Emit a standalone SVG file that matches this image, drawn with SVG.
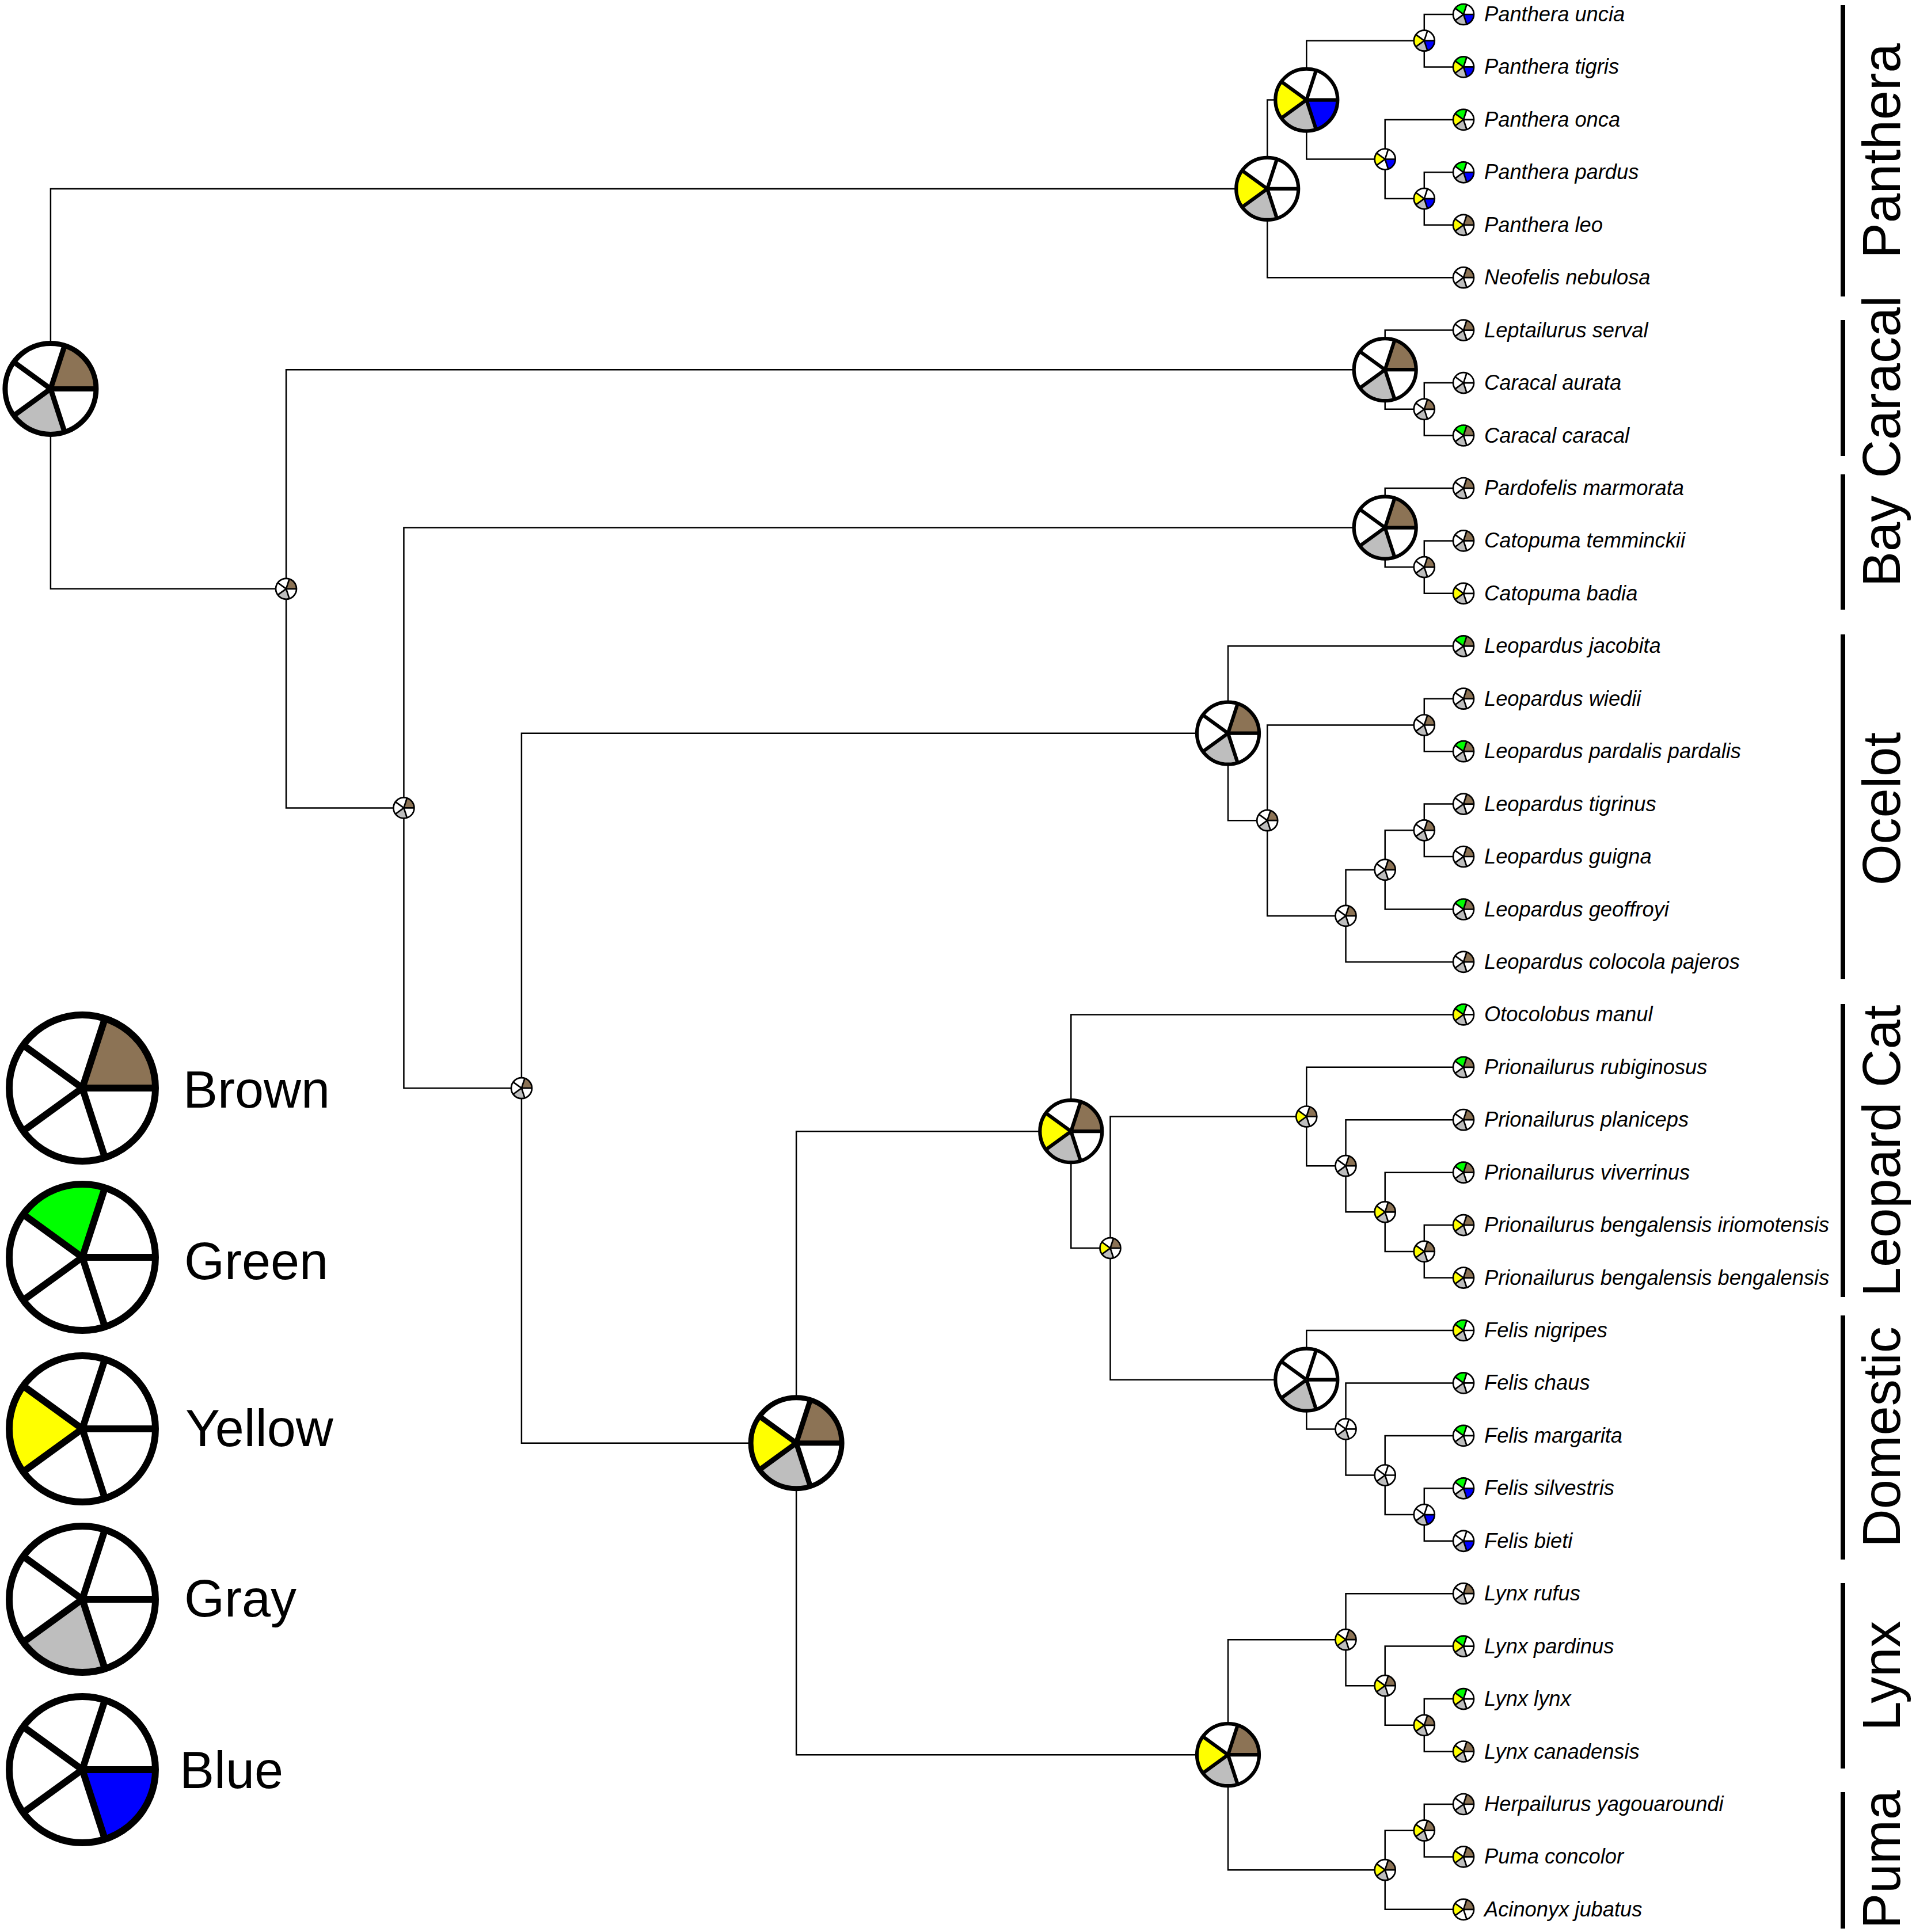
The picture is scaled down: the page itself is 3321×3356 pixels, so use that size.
<svg xmlns="http://www.w3.org/2000/svg" xmlns:xlink="http://www.w3.org/1999/xlink" width="3321" height="3356" viewBox="0 0 3321 3356">
<style>
.g{fill:#00FF00}.y{fill:#FFFF00}.gy{fill:#BEBEBE}.b{fill:#0000FF}.br{fill:#8C7355}
.fs{stroke-width:.15}.fm{stroke-width:.115}.fl{stroke-width:.114}.fg{stroke-width:.094}
.tl{font-family:"Liberation Sans",Arial,Helvetica,sans-serif;font-style:italic;font-size:36.3px;fill:#000}
.cl{font-family:"Liberation Sans",Arial,Helvetica,sans-serif;font-size:92px;fill:#000}
.lg{font-family:"Liberation Sans",Arial,Helvetica,sans-serif;font-size:90px;fill:#000}
</style>
<defs>
<circle id="bg" r="1" fill="#fff"/>
<path id="sB" d="M0 0L1 0A1 1 0 0 1 .30902 .95106Z"/>
<path id="sGy" d="M0 0L.30902 .95106A1 1 0 0 1 -.80902 .58779Z"/>
<path id="sY" d="M0 0L-.80902 .58779A1 1 0 0 1 -.80902 -.58779Z"/>
<path id="sG" d="M0 0L-.80902 -.58779A1 1 0 0 1 .30902 -.95106Z"/>
<path id="sBr" d="M0 0L.30902 -.95106A1 1 0 0 1 1 0Z"/>
<g id="fr" fill="none" stroke="#000"><circle r="1"/><path d="M0 0L1 0M0 0L.30902 .95106M0 0L-.80902 .58779M0 0L-.80902 -.58779M0 0L.30902 -.95106"/></g>
</defs>
<rect width="3321" height="3356" fill="#fff"/>
<g id="connectors" fill="none" stroke="#000" stroke-width="2.5">
<path d="M2201.2 327.9H87.9V1022.8H497"/>
<path d="M2269.3 173.6H2201.2V482.2H2542"/>
<path d="M2473.8 70.7H2269.3V276.5H2405.7"/>
<path d="M2542 25H2473.8V116.4H2542"/>
<path d="M2542 207.9H2405.7V345.1H2473.8"/>
<path d="M2542 299.3H2473.8V390.8H2542"/>
<path d="M2405.7 642.2H497V1403.4H701.4"/>
<path d="M2542 573.6H2405.7V710.8H2473.8"/>
<path d="M2542 665.1H2473.8V756.5H2542"/>
<path d="M2405.7 916.6H701.4V1890.2H905.9"/>
<path d="M2542 848H2405.7V985.1H2473.8"/>
<path d="M2542 939.4H2473.8V1030.8H2542"/>
<path d="M2133 1273.7H905.9V2506.7H1383.1"/>
<path d="M2542 1122.3H2133V1425.2H2201.2"/>
<path d="M2473.8 1259.5H2201.2V1590.9H2337.5"/>
<path d="M2542 1213.7H2473.8V1305.2H2542"/>
<path d="M2405.7 1510.9H2337.5V1670.9H2542"/>
<path d="M2473.8 1442.3H2405.7V1579.5H2542"/>
<path d="M2542 1396.6H2473.8V1488H2542"/>
<path d="M1860.3 1965.2H1383.1V3048.2H2133"/>
<path d="M2542 1762.4H1860.3V2168.1H1928.5"/>
<path d="M2269.3 1939.5H1928.5V2396.7H2269.3"/>
<path d="M2542 1853.8H2269.3V2025.2H2337.5"/>
<path d="M2542 1945.2H2337.5V2105.3H2405.7"/>
<path d="M2542 2036.7H2405.7V2173.9H2473.8"/>
<path d="M2542 2128.1H2473.8V2219.6H2542"/>
<path d="M2542 2311H2269.3V2482.4H2337.5"/>
<path d="M2542 2402.4H2337.5V2562.5H2405.7"/>
<path d="M2542 2493.9H2405.7V2631.1H2473.8"/>
<path d="M2542 2585.3H2473.8V2676.8H2542"/>
<path d="M2337.5 2848.2H2133V3248.2H2405.7"/>
<path d="M2542 2768.2H2337.5V2928.2H2405.7"/>
<path d="M2542 2859.6H2405.7V2996.8H2473.8"/>
<path d="M2542 2951.1H2473.8V3042.5H2542"/>
<path d="M2473.8 3179.7H2405.7V3316.8H2542"/>
<path d="M2542 3134H2473.8V3225.4H2542"/>
</g>
<g id="internal-nodes">
<g id="n-root" transform="translate(87.9 675.4) scale(79)"><use href="#bg"/><use href="#sBr" class="br"/><use href="#sGy" class="gy"/><use href="#fr" class="fl"/></g>
<g id="n-panthera" transform="translate(2201.2 327.9) scale(54)"><use href="#bg"/><use href="#sY" class="y"/><use href="#sGy" class="gy"/><use href="#fr" class="fm"/></g>
<g id="n-pantheracore" transform="translate(2269.3 173.6) scale(54)"><use href="#bg"/><use href="#sY" class="y"/><use href="#sGy" class="gy"/><use href="#sB" class="b"/><use href="#fr" class="fm"/></g>
<g id="n-unc-tig" transform="translate(2473.8 70.7) scale(18)"><use href="#bg"/><use href="#sY" class="y"/><use href="#sGy" class="gy"/><use href="#sB" class="b"/><use href="#fr" class="fs"/></g>
<g id="n-onca" transform="translate(2405.7 276.5) scale(18)"><use href="#bg"/><use href="#sY" class="y"/><use href="#sB" class="b"/><use href="#fr" class="fs"/></g>
<g id="n-leo-par" transform="translate(2473.8 345.1) scale(18)"><use href="#bg"/><use href="#sY" class="y"/><use href="#sGy" class="gy"/><use href="#sB" class="b"/><use href="#fr" class="fs"/></g>
<g id="n-caracal" transform="translate(2405.7 642.2) scale(54)"><use href="#bg"/><use href="#sBr" class="br"/><use href="#sGy" class="gy"/><use href="#fr" class="fm"/></g>
<g id="n-car" transform="translate(2473.8 710.8) scale(18)"><use href="#bg"/><use href="#sBr" class="br"/><use href="#sGy" class="gy"/><use href="#fr" class="fs"/></g>
<g id="n-bay" transform="translate(2405.7 916.6) scale(54)"><use href="#bg"/><use href="#sBr" class="br"/><use href="#sGy" class="gy"/><use href="#fr" class="fm"/></g>
<g id="n-cat" transform="translate(2473.8 985.1) scale(18)"><use href="#bg"/><use href="#sBr" class="br"/><use href="#sGy" class="gy"/><use href="#fr" class="fs"/></g>
<g id="n-k30" transform="translate(497 1022.8) scale(18)"><use href="#bg"/><use href="#sBr" class="br"/><use href="#sGy" class="gy"/><use href="#fr" class="fs"/></g>
<g id="n-k27" transform="translate(701.4 1403.4) scale(18)"><use href="#bg"/><use href="#sBr" class="br"/><use href="#sGy" class="gy"/><use href="#fr" class="fs"/></g>
<g id="n-k24" transform="translate(905.9 1890.2) scale(18)"><use href="#bg"/><use href="#sBr" class="br"/><use href="#sGy" class="gy"/><use href="#fr" class="fs"/></g>
<g id="n-ocelot" transform="translate(2133 1273.7) scale(54)"><use href="#bg"/><use href="#sBr" class="br"/><use href="#sGy" class="gy"/><use href="#fr" class="fm"/></g>
<g id="n-wp" transform="translate(2473.8 1259.5) scale(18)"><use href="#bg"/><use href="#sBr" class="br"/><use href="#sGy" class="gy"/><use href="#fr" class="fs"/></g>
<g id="n-wptggc" transform="translate(2201.2 1425.2) scale(18)"><use href="#bg"/><use href="#sBr" class="br"/><use href="#sGy" class="gy"/><use href="#fr" class="fs"/></g>
<g id="n-tg" transform="translate(2473.8 1442.3) scale(18)"><use href="#bg"/><use href="#sBr" class="br"/><use href="#sGy" class="gy"/><use href="#fr" class="fs"/></g>
<g id="n-tgg" transform="translate(2405.7 1510.9) scale(18)"><use href="#bg"/><use href="#sBr" class="br"/><use href="#sGy" class="gy"/><use href="#fr" class="fs"/></g>
<g id="n-tggc" transform="translate(2337.5 1590.9) scale(18)"><use href="#bg"/><use href="#sBr" class="br"/><use href="#sGy" class="gy"/><use href="#fr" class="fs"/></g>
<g id="n-big" transform="translate(1383.1 2506.7) scale(79)"><use href="#bg"/><use href="#sBr" class="br"/><use href="#sY" class="y"/><use href="#sGy" class="gy"/><use href="#fr" class="fl"/></g>
<g id="n-leopardcat" transform="translate(1860.3 1965.2) scale(54)"><use href="#bg"/><use href="#sBr" class="br"/><use href="#sY" class="y"/><use href="#sGy" class="gy"/><use href="#fr" class="fm"/></g>
<g id="n-pf" transform="translate(1928.5 2168.1) scale(18)"><use href="#bg"/><use href="#sBr" class="br"/><use href="#sY" class="y"/><use href="#sGy" class="gy"/><use href="#fr" class="fs"/></g>
<g id="n-prion" transform="translate(2269.3 1939.5) scale(18)"><use href="#bg"/><use href="#sBr" class="br"/><use href="#sY" class="y"/><use href="#sGy" class="gy"/><use href="#fr" class="fs"/></g>
<g id="n-pvbb" transform="translate(2337.5 2025.2) scale(18)"><use href="#bg"/><use href="#sBr" class="br"/><use href="#sGy" class="gy"/><use href="#fr" class="fs"/></g>
<g id="n-vbb" transform="translate(2405.7 2105.3) scale(18)"><use href="#bg"/><use href="#sBr" class="br"/><use href="#sY" class="y"/><use href="#sGy" class="gy"/><use href="#fr" class="fs"/></g>
<g id="n-bb" transform="translate(2473.8 2173.9) scale(18)"><use href="#bg"/><use href="#sBr" class="br"/><use href="#sY" class="y"/><use href="#sGy" class="gy"/><use href="#fr" class="fs"/></g>
<g id="n-felis" transform="translate(2269.3 2396.7) scale(54)"><use href="#bg"/><use href="#sGy" class="gy"/><use href="#fr" class="fm"/></g>
<g id="n-cmsb" transform="translate(2337.5 2482.4) scale(18)"><use href="#bg"/><use href="#sGy" class="gy"/><use href="#fr" class="fs"/></g>
<g id="n-msb" transform="translate(2405.7 2562.5) scale(18)"><use href="#bg"/><use href="#sGy" class="gy"/><use href="#fr" class="fs"/></g>
<g id="n-sb" transform="translate(2473.8 2631.1) scale(18)"><use href="#bg"/><use href="#sGy" class="gy"/><use href="#sB" class="b"/><use href="#fr" class="fs"/></g>
<g id="n-lynxpuma" transform="translate(2133 3048.2) scale(54)"><use href="#bg"/><use href="#sBr" class="br"/><use href="#sY" class="y"/><use href="#sGy" class="gy"/><use href="#fr" class="fm"/></g>
<g id="n-lynx" transform="translate(2337.5 2848.2) scale(18)"><use href="#bg"/><use href="#sBr" class="br"/><use href="#sY" class="y"/><use href="#sGy" class="gy"/><use href="#fr" class="fs"/></g>
<g id="n-plc" transform="translate(2405.7 2928.2) scale(18)"><use href="#bg"/><use href="#sBr" class="br"/><use href="#sY" class="y"/><use href="#sGy" class="gy"/><use href="#fr" class="fs"/></g>
<g id="n-lc" transform="translate(2473.8 2996.8) scale(18)"><use href="#bg"/><use href="#sBr" class="br"/><use href="#sY" class="y"/><use href="#sGy" class="gy"/><use href="#fr" class="fs"/></g>
<g id="n-puma" transform="translate(2405.7 3248.2) scale(18)"><use href="#bg"/><use href="#sBr" class="br"/><use href="#sY" class="y"/><use href="#sGy" class="gy"/><use href="#fr" class="fs"/></g>
<g id="n-hp" transform="translate(2473.8 3179.7) scale(18)"><use href="#bg"/><use href="#sBr" class="br"/><use href="#sY" class="y"/><use href="#sGy" class="gy"/><use href="#fr" class="fs"/></g>
</g>
<g id="tips">
<g id="t00"><g transform="translate(2542 25) scale(18)"><use href="#bg"/><use href="#sG" class="g"/><use href="#sGy" class="gy"/><use href="#sB" class="b"/><use href="#fr" class="fs"/></g><text class="tl" x="2578" y="37">Panthera uncia</text></g>
<g id="t01"><g transform="translate(2542 116.4) scale(18)"><use href="#bg"/><use href="#sG" class="g"/><use href="#sY" class="y"/><use href="#sGy" class="gy"/><use href="#sB" class="b"/><use href="#fr" class="fs"/></g><text class="tl" x="2578" y="128.4">Panthera tigris</text></g>
<g id="t02"><g transform="translate(2542 207.9) scale(18)"><use href="#bg"/><use href="#sG" class="g"/><use href="#sY" class="y"/><use href="#sGy" class="gy"/><use href="#fr" class="fs"/></g><text class="tl" x="2578" y="219.9">Panthera onca</text></g>
<g id="t03"><g transform="translate(2542 299.3) scale(18)"><use href="#bg"/><use href="#sG" class="g"/><use href="#sGy" class="gy"/><use href="#sB" class="b"/><use href="#fr" class="fs"/></g><text class="tl" x="2578" y="311.3">Panthera pardus</text></g>
<g id="t04"><g transform="translate(2542 390.8) scale(18)"><use href="#bg"/><use href="#sBr" class="br"/><use href="#sY" class="y"/><use href="#sGy" class="gy"/><use href="#fr" class="fs"/></g><text class="tl" x="2578" y="402.8">Panthera leo</text></g>
<g id="t05"><g transform="translate(2542 482.2) scale(18)"><use href="#bg"/><use href="#sBr" class="br"/><use href="#sGy" class="gy"/><use href="#fr" class="fs"/></g><text class="tl" x="2578" y="494.2">Neofelis nebulosa</text></g>
<g id="t06"><g transform="translate(2542 573.6) scale(18)"><use href="#bg"/><use href="#sBr" class="br"/><use href="#sGy" class="gy"/><use href="#fr" class="fs"/></g><text class="tl" x="2578" y="585.6">Leptailurus serval</text></g>
<g id="t07"><g transform="translate(2542 665.1) scale(18)"><use href="#bg"/><use href="#sGy" class="gy"/><use href="#fr" class="fs"/></g><text class="tl" x="2578" y="677.1">Caracal aurata</text></g>
<g id="t08"><g transform="translate(2542 756.5) scale(18)"><use href="#bg"/><use href="#sBr" class="br"/><use href="#sG" class="g"/><use href="#sGy" class="gy"/><use href="#fr" class="fs"/></g><text class="tl" x="2578" y="768.5">Caracal caracal</text></g>
<g id="t09"><g transform="translate(2542 848) scale(18)"><use href="#bg"/><use href="#sBr" class="br"/><use href="#sGy" class="gy"/><use href="#fr" class="fs"/></g><text class="tl" x="2578" y="860">Pardofelis marmorata</text></g>
<g id="t10"><g transform="translate(2542 939.4) scale(18)"><use href="#bg"/><use href="#sBr" class="br"/><use href="#sGy" class="gy"/><use href="#fr" class="fs"/></g><text class="tl" x="2578" y="951.4">Catopuma temminckii</text></g>
<g id="t11"><g transform="translate(2542 1030.8) scale(18)"><use href="#bg"/><use href="#sY" class="y"/><use href="#sGy" class="gy"/><use href="#fr" class="fs"/></g><text class="tl" x="2578" y="1042.8">Catopuma badia</text></g>
<g id="t12"><g transform="translate(2542 1122.3) scale(18)"><use href="#bg"/><use href="#sBr" class="br"/><use href="#sG" class="g"/><use href="#sGy" class="gy"/><use href="#fr" class="fs"/></g><text class="tl" x="2578" y="1134.3">Leopardus jacobita</text></g>
<g id="t13"><g transform="translate(2542 1213.7) scale(18)"><use href="#bg"/><use href="#sBr" class="br"/><use href="#sGy" class="gy"/><use href="#fr" class="fs"/></g><text class="tl" x="2578" y="1225.7">Leopardus wiedii</text></g>
<g id="t14"><g transform="translate(2542 1305.2) scale(18)"><use href="#bg"/><use href="#sBr" class="br"/><use href="#sG" class="g"/><use href="#sGy" class="gy"/><use href="#fr" class="fs"/></g><text class="tl" x="2578" y="1317.2">Leopardus pardalis pardalis</text></g>
<g id="t15"><g transform="translate(2542 1396.6) scale(18)"><use href="#bg"/><use href="#sBr" class="br"/><use href="#sGy" class="gy"/><use href="#fr" class="fs"/></g><text class="tl" x="2578" y="1408.6">Leopardus tigrinus</text></g>
<g id="t16"><g transform="translate(2542 1488) scale(18)"><use href="#bg"/><use href="#sBr" class="br"/><use href="#sGy" class="gy"/><use href="#fr" class="fs"/></g><text class="tl" x="2578" y="1500">Leopardus guigna</text></g>
<g id="t17"><g transform="translate(2542 1579.5) scale(18)"><use href="#bg"/><use href="#sBr" class="br"/><use href="#sG" class="g"/><use href="#sGy" class="gy"/><use href="#fr" class="fs"/></g><text class="tl" x="2578" y="1591.5">Leopardus geoffroyi</text></g>
<g id="t18"><g transform="translate(2542 1670.9) scale(18)"><use href="#bg"/><use href="#sBr" class="br"/><use href="#sGy" class="gy"/><use href="#fr" class="fs"/></g><text class="tl" x="2578" y="1682.9">Leopardus colocola pajeros</text></g>
<g id="t19"><g transform="translate(2542 1762.4) scale(18)"><use href="#bg"/><use href="#sG" class="g"/><use href="#sY" class="y"/><use href="#sGy" class="gy"/><use href="#fr" class="fs"/></g><text class="tl" x="2578" y="1774.4">Otocolobus manul</text></g>
<g id="t20"><g transform="translate(2542 1853.8) scale(18)"><use href="#bg"/><use href="#sBr" class="br"/><use href="#sG" class="g"/><use href="#sGy" class="gy"/><use href="#fr" class="fs"/></g><text class="tl" x="2578" y="1865.8">Prionailurus rubiginosus</text></g>
<g id="t21"><g transform="translate(2542 1945.2) scale(18)"><use href="#bg"/><use href="#sBr" class="br"/><use href="#sGy" class="gy"/><use href="#fr" class="fs"/></g><text class="tl" x="2578" y="1957.2">Prionailurus planiceps</text></g>
<g id="t22"><g transform="translate(2542 2036.7) scale(18)"><use href="#bg"/><use href="#sBr" class="br"/><use href="#sG" class="g"/><use href="#sGy" class="gy"/><use href="#fr" class="fs"/></g><text class="tl" x="2578" y="2048.7">Prionailurus viverrinus</text></g>
<g id="t23"><g transform="translate(2542 2128.1) scale(18)"><use href="#bg"/><use href="#sBr" class="br"/><use href="#sY" class="y"/><use href="#sGy" class="gy"/><use href="#fr" class="fs"/></g><text class="tl" x="2578" y="2140.1">Prionailurus bengalensis iriomotensis</text></g>
<g id="t24"><g transform="translate(2542 2219.6) scale(18)"><use href="#bg"/><use href="#sBr" class="br"/><use href="#sY" class="y"/><use href="#sGy" class="gy"/><use href="#fr" class="fs"/></g><text class="tl" x="2578" y="2231.6">Prionailurus bengalensis bengalensis</text></g>
<g id="t25"><g transform="translate(2542 2311) scale(18)"><use href="#bg"/><use href="#sG" class="g"/><use href="#sY" class="y"/><use href="#sGy" class="gy"/><use href="#fr" class="fs"/></g><text class="tl" x="2578" y="2323">Felis nigripes</text></g>
<g id="t26"><g transform="translate(2542 2402.4) scale(18)"><use href="#bg"/><use href="#sG" class="g"/><use href="#sGy" class="gy"/><use href="#fr" class="fs"/></g><text class="tl" x="2578" y="2414.4">Felis chaus</text></g>
<g id="t27"><g transform="translate(2542 2493.9) scale(18)"><use href="#bg"/><use href="#sG" class="g"/><use href="#sGy" class="gy"/><use href="#fr" class="fs"/></g><text class="tl" x="2578" y="2505.9">Felis margarita</text></g>
<g id="t28"><g transform="translate(2542 2585.3) scale(18)"><use href="#bg"/><use href="#sG" class="g"/><use href="#sGy" class="gy"/><use href="#sB" class="b"/><use href="#fr" class="fs"/></g><text class="tl" x="2578" y="2597.3">Felis silvestris</text></g>
<g id="t29"><g transform="translate(2542 2676.8) scale(18)"><use href="#bg"/><use href="#sGy" class="gy"/><use href="#sB" class="b"/><use href="#fr" class="fs"/></g><text class="tl" x="2578" y="2688.8">Felis bieti</text></g>
<g id="t30"><g transform="translate(2542 2768.2) scale(18)"><use href="#bg"/><use href="#sBr" class="br"/><use href="#sGy" class="gy"/><use href="#fr" class="fs"/></g><text class="tl" x="2578" y="2780.2">Lynx rufus</text></g>
<g id="t31"><g transform="translate(2542 2859.6) scale(18)"><use href="#bg"/><use href="#sG" class="g"/><use href="#sY" class="y"/><use href="#sGy" class="gy"/><use href="#fr" class="fs"/></g><text class="tl" x="2578" y="2871.6">Lynx pardinus</text></g>
<g id="t32"><g transform="translate(2542 2951.1) scale(18)"><use href="#bg"/><use href="#sG" class="g"/><use href="#sY" class="y"/><use href="#sGy" class="gy"/><use href="#fr" class="fs"/></g><text class="tl" x="2578" y="2963.1">Lynx lynx</text></g>
<g id="t33"><g transform="translate(2542 3042.5) scale(18)"><use href="#bg"/><use href="#sBr" class="br"/><use href="#sY" class="y"/><use href="#sGy" class="gy"/><use href="#fr" class="fs"/></g><text class="tl" x="2578" y="3054.5">Lynx canadensis</text></g>
<g id="t34"><g transform="translate(2542 3134) scale(18)"><use href="#bg"/><use href="#sBr" class="br"/><use href="#sGy" class="gy"/><use href="#fr" class="fs"/></g><text class="tl" x="2578" y="3146">Herpailurus yagouaroundi</text></g>
<g id="t35"><g transform="translate(2542 3225.4) scale(18)"><use href="#bg"/><use href="#sBr" class="br"/><use href="#sY" class="y"/><use href="#sGy" class="gy"/><use href="#fr" class="fs"/></g><text class="tl" x="2578" y="3237.4">Puma concolor</text></g>
<g id="t36"><g transform="translate(2542 3316.8) scale(18)"><use href="#bg"/><use href="#sBr" class="br"/><use href="#sY" class="y"/><use href="#fr" class="fs"/></g><text class="tl" x="2578" y="3328.8">Acinonyx jubatus</text></g>
</g>
<g id="clades" fill="#000">
<g id="c-panthera"><rect x="3197" y="9" width="8" height="506"/><text class="cl" text-anchor="middle" transform="translate(3300 262) rotate(-90)">Panthera</text></g>
<g id="c-caracal"><rect x="3197" y="556" width="8" height="236"/><text class="cl" text-anchor="middle" transform="translate(3300 672) rotate(-90)">Caracal</text></g>
<g id="c-bay"><rect x="3197" y="824" width="8" height="235"/><text class="cl" text-anchor="middle" transform="translate(3300 940) rotate(-90)">Bay</text></g>
<g id="c-ocelot"><rect x="3197" y="1102" width="8" height="599"/><text class="cl" text-anchor="middle" transform="translate(3300 1405) rotate(-90)">Ocelot</text></g>
<g id="c-leopardcat"><rect x="3197" y="1744" width="8" height="509"/><text class="cl" text-anchor="middle" transform="translate(3300 1999) rotate(-90)">Leopard Cat</text></g>
<g id="c-domestic"><rect x="3197" y="2285" width="8" height="424"/><text class="cl" text-anchor="middle" transform="translate(3300 2496) rotate(-90)">Domestic</text></g>
<g id="c-lynx"><rect x="3197" y="2750" width="8" height="322"/><text class="cl" text-anchor="middle" transform="translate(3300 2911) rotate(-90)">Lynx</text></g>
<g id="c-puma"><rect x="3197" y="3113" width="8" height="237"/><text class="cl" text-anchor="middle" transform="translate(3300 3230) rotate(-90)">Puma</text></g>
</g>
<g id="legend">
<g id="lg-brown"><g transform="translate(143 1890) scale(127)"><use href="#bg"/><use href="#sBr" class="br"/><use href="#fr" class="fg"/></g><text class="lg" x="318" y="1924">Brown</text></g>
<g id="lg-green"><g transform="translate(143 2184) scale(127)"><use href="#bg"/><use href="#sG" class="g"/><use href="#fr" class="fg"/></g><text class="lg" x="320" y="2222">Green</text></g>
<g id="lg-yellow"><g transform="translate(143 2482) scale(127)"><use href="#bg"/><use href="#sY" class="y"/><use href="#fr" class="fg"/></g><text class="lg" x="322" y="2512">Yellow</text></g>
<g id="lg-gray"><g transform="translate(143 2778) scale(127)"><use href="#bg"/><use href="#sGy" class="gy"/><use href="#fr" class="fg"/></g><text class="lg" x="320" y="2808">Gray</text></g>
<g id="lg-blue"><g transform="translate(143 3074) scale(127)"><use href="#bg"/><use href="#sB" class="b"/><use href="#fr" class="fg"/></g><text class="lg" x="312" y="3106">Blue</text></g>
</g>
</svg>
